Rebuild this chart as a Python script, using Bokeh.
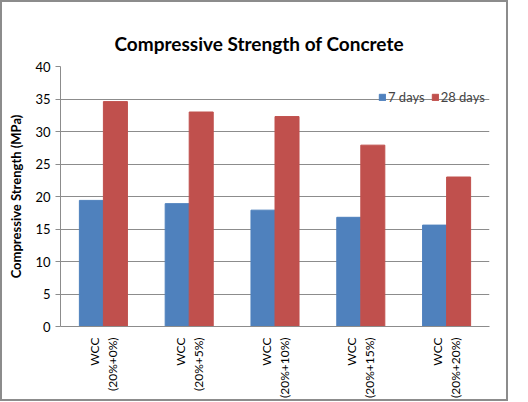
from bokeh.plotting import figure
from bokeh.models import ColumnDataSource, FactorRange, Legend, LegendItem, FixedTicker, Title
from bokeh.transform import dodge
from bokeh.embed import file_html
from bokeh.resources import INLINE
import math

categories = ["WCC\n(20%+0%)", "WCC\n(20%+5%)", "WCC\n(20%+10%)", "WCC\n(20%+15%)", "WCC\n(20%+20%)"]
days7 = [19.4, 18.9, 17.9, 16.8, 15.6]
days28 = [34.6, 33.0, 32.3, 27.9, 23.0]
y_ticks = [0, 5, 10, 15, 20, 25, 30, 35, 40]

src = ColumnDataSource(dict(cat=categories, d7=days7, d28=days28))

FONT = "Lato"
p = figure(x_range=FactorRange(*categories, range_padding=0), y_range=(0, 40),
           width=508, height=401, output_backend="svg", toolbar_location=None,
           min_border_left=58, min_border_right=21, min_border_top=64, min_border_bottom=77)
p.styles = {"border": "2px solid #8c8c8c", "box-sizing": "border-box"}

b1 = p.vbar(x=dodge("cat", -0.14, range=p.x_range), top="d7", width=0.28, source=src,
            fill_color="#4F81BD", line_color="#4F81BD")
b2 = p.vbar(x=dodge("cat", 0.14, range=p.x_range), top="d28", width=0.28, source=src,
            fill_color="#C0504D", line_color="#C0504D")

p.title = Title(text="Compressive Strength of Concrete", align="left",
                text_font=FONT, text_font_size="19px", text_font_style="bold", text_color="#000000",
                offset=54, standoff=24)
p.title_location = "above"

p.outline_line_color = None
p.xgrid.grid_line_color = None
p.ygrid.grid_line_color = "#8c8c8c"
p.ygrid.grid_line_width = 1

p.yaxis.ticker = FixedTicker(ticks=y_ticks)
p.yaxis.axis_line_color = "#8c8c8c"
p.yaxis.major_tick_line_color = "#8c8c8c"
p.yaxis.major_tick_out = 5
p.yaxis.major_tick_in = 0
p.yaxis.minor_tick_line_color = None
p.yaxis.major_label_text_font = FONT
p.yaxis.major_label_text_font_size = "13px"
p.yaxis.major_label_text_color = "#000000"
p.yaxis.axis_label = "Compressive Strength (MPa)"
p.yaxis.axis_label_text_font = FONT
p.yaxis.axis_label_text_font_size = "13px"
p.yaxis.axis_label_text_font_style = "bold"
p.yaxis.axis_label_text_color = "#000000"
p.yaxis.axis_label_standoff = 8

p.xaxis.axis_line_color = "#8c8c8c"
p.xaxis.major_tick_line_color = None
p.xaxis.major_label_orientation = math.pi / 2
p.xaxis.major_label_text_font = FONT
p.xaxis.major_label_text_font_size = "12px"
p.xaxis.major_label_text_color = "#000000"
p.xaxis.major_label_standoff = 5

legend = Legend(items=[LegendItem(label="7 days", renderers=[b1]),
                       LegendItem(label="28 days", renderers=[b2])],
                orientation="horizontal", location=(318, 221),
                label_text_font=FONT, label_text_font_size="13px",
                glyph_width=8, glyph_height=8, label_standoff=2, spacing=6,
                padding=2, margin=0, border_line_color=None, background_fill_alpha=0)
p.add_layout(legend)

open("out.html", "w").write(file_html(p, INLINE))
